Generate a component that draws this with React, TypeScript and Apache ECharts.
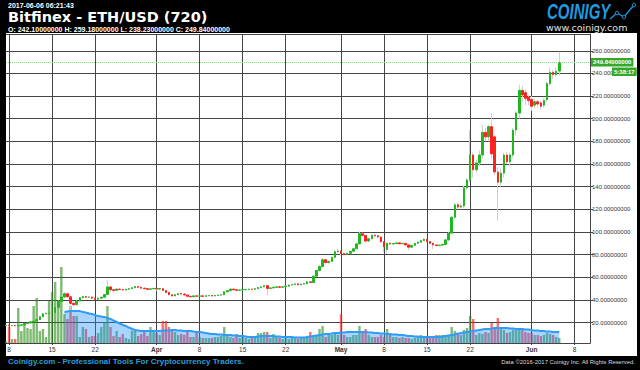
import React, { useEffect, useRef } from 'react';
import * as echarts from 'echarts';

// 12h candles, Bitfinex ETH/USD
const START = Date.UTC(2017, 2, 7, 12);
const STEP = 12 * 3600 * 1000;
const AXIS_SLOTS = 191; // Mar 7 12:00 .. Jun 10 12:00
const categories: string[] = [];
for (let i = 0; i < AXIS_SLOTS; i++) {
  categories.push(new Date(START + i * STEP).toISOString().slice(0, 16).replace('T', ' '));
}
const tickDays = [1, 8, 15, 22];
const monthNames = ['Jan', 'Feb', 'Mar', 'Apr', 'May', 'Jun', 'Jul', 'Aug', 'Sep', 'Oct', 'Nov', 'Dec'];

// [open, close, low, high]
const ohlc: number[][] = [
  [17.5, 17.8, 17.2, 18.1], [17.8, 17.3, 17.0, 18.0], [17.3, 17.5, 17.1, 17.8], [17.5, 17.2, 16.9, 17.7], [17.2, 17.6, 17.0, 17.9],
  [17.6, 18.0, 17.4, 18.3], [18.0, 19.2, 17.8, 19.5], [19.2, 19.6, 18.9, 20.0], [19.6, 20.8, 19.4, 21.2], [20.8, 21.4, 20.5, 21.8],
  [21.4, 22.6, 21.2, 23.2], [22.6, 25.2, 22.3, 25.8], [25.2, 27.8, 24.9, 28.5], [27.8, 28.2, 27.3, 28.8], [28.2, 28.6, 27.9, 29.2],
  [28.6, 28.9, 28.2, 29.4], [28.9, 33.5, 28.6, 34.2], [33.5, 38.5, 33.0, 39.5], [38.5, 42.6, 37.8, 44.0], [42.6, 45.5, 41.5, 47.0],
  [45.5, 42.8, 41.5, 46.5], [42.8, 37.0, 31.0, 43.5], [37.0, 35.8, 34.0, 38.5], [35.8, 39.0, 35.0, 39.8], [39.0, 42.0, 38.5, 42.8],
  [42.0, 43.0, 41.2, 44.0], [43.0, 42.4, 41.8, 43.6], [42.4, 42.6, 41.8, 43.2], [42.6, 41.6, 41.0, 43.0], [41.6, 40.6, 40.0, 42.0],
  [40.6, 41.6, 40.2, 42.2], [41.6, 42.4, 41.2, 43.0], [42.4, 44.8, 42.0, 45.5], [44.8, 51.5, 44.5, 58.0], [51.5, 49.0, 47.5, 52.5],
  [49.0, 48.4, 46.5, 50.0], [48.4, 49.6, 48.0, 50.5], [49.6, 49.2, 48.6, 50.2], [49.2, 48.8, 47.8, 49.8], [48.8, 49.5, 48.4, 50.0],
  [49.5, 50.0, 49.1, 50.6], [50.0, 50.8, 49.6, 51.4], [50.8, 51.8, 50.4, 52.4], [51.8, 51.2, 50.6, 52.2], [51.2, 50.4, 49.8, 51.6],
  [50.4, 50.0, 49.4, 50.8], [50.0, 49.4, 48.8, 50.4], [49.4, 49.8, 49.0, 50.4], [49.8, 50.2, 49.4, 50.8], [50.2, 49.6, 48.0, 50.6],
  [49.6, 50.0, 49.2, 50.5], [50.0, 48.4, 47.8, 50.3], [48.4, 46.6, 46.0, 48.8], [46.6, 44.6, 44.0, 47.0], [44.6, 43.6, 42.8, 45.0],
  [43.6, 44.6, 43.2, 45.2], [44.6, 45.6, 44.2, 46.2], [45.6, 45.2, 44.6, 46.0], [45.2, 44.4, 43.8, 45.6], [44.4, 43.2, 42.6, 44.8],
  [43.2, 42.8, 42.2, 43.6], [42.8, 43.6, 42.4, 44.0], [43.6, 43.3, 42.9, 44.0], [43.3, 43.6, 43.0, 44.0], [43.6, 43.2, 42.8, 44.0],
  [43.2, 43.7, 42.9, 44.1], [43.7, 43.9, 43.3, 44.3], [43.9, 43.5, 43.1, 44.2], [43.5, 44.0, 43.2, 44.4], [44.0, 44.3, 43.7, 44.8],
  [44.3, 44.6, 44.0, 45.0], [44.6, 47.2, 44.3, 47.8], [47.2, 48.2, 46.8, 48.8], [48.2, 49.6, 47.8, 50.4], [49.6, 49.0, 48.4, 50.0],
  [49.0, 48.5, 48.0, 49.4], [48.5, 48.8, 48.1, 49.3], [48.8, 49.1, 48.5, 49.6], [49.1, 49.3, 48.7, 49.8], [49.3, 49.6, 49.0, 50.0],
  [49.6, 49.4, 49.0, 50.0], [49.4, 50.0, 49.0, 50.4], [50.0, 51.0, 49.6, 51.5], [51.0, 51.6, 50.6, 52.0], [51.6, 52.6, 51.2, 53.2],
  [52.6, 50.2, 44.0, 53.0], [50.2, 50.6, 49.6, 51.2], [50.6, 51.2, 50.2, 51.8], [51.2, 51.6, 50.8, 52.0], [51.6, 51.2, 50.8, 52.0],
  [51.2, 51.6, 50.9, 52.0], [51.6, 52.2, 51.2, 52.6], [52.2, 53.2, 51.8, 53.6], [53.2, 53.6, 52.8, 54.2], [53.6, 54.2, 53.2, 54.6],
  [54.2, 53.4, 53.0, 54.6], [53.4, 54.0, 53.0, 54.4], [54.0, 54.4, 53.6, 55.0], [54.4, 56.0, 54.0, 56.6], [56.0, 55.4, 55.0, 56.4],
  [55.4, 61.0, 55.0, 62.0], [61.0, 66.0, 60.2, 67.0], [66.0, 69.5, 65.0, 71.0], [69.5, 75.5, 69.0, 77.0], [75.5, 73.0, 72.0, 76.0],
  [73.0, 74.0, 72.4, 75.0], [74.0, 77.6, 73.5, 78.5], [77.6, 82.6, 77.0, 84.0], [82.6, 83.2, 81.8, 85.0], [83.2, 81.0, 79.5, 84.0],
  [81.0, 80.2, 79.0, 82.0], [80.2, 81.2, 79.8, 82.0], [81.2, 83.0, 80.8, 83.6], [83.0, 85.2, 82.6, 86.0], [85.2, 89.5, 84.8, 90.4],
  [89.5, 98.5, 89.0, 100.5], [98.5, 97.0, 95.5, 99.5], [97.0, 92.0, 90.5, 97.6], [92.0, 94.0, 91.2, 95.0], [94.0, 97.2, 93.5, 98.0],
  [97.2, 96.6, 95.8, 98.0], [96.6, 95.6, 94.8, 97.4], [95.6, 91.4, 90.5, 96.0], [91.4, 87.0, 82.0, 92.0], [84.5, 90.0, 81.0, 90.8],
  [90.0, 89.4, 88.6, 90.6], [89.4, 89.8, 88.8, 90.4], [89.8, 90.4, 89.2, 91.0], [90.4, 89.6, 89.0, 91.0], [89.6, 90.0, 89.2, 90.6],
  [90.0, 88.6, 88.0, 90.4], [88.6, 86.6, 84.0, 89.0], [86.6, 88.2, 86.0, 88.8], [88.2, 90.0, 87.8, 90.6], [90.0, 91.0, 89.6, 91.6],
  [91.0, 92.4, 90.6, 93.0], [92.4, 93.6, 92.0, 94.4], [93.6, 91.6, 91.0, 94.0], [91.6, 90.0, 89.4, 92.0], [90.0, 88.6, 85.0, 90.4],
  [88.6, 88.0, 87.4, 89.0], [88.0, 88.4, 87.6, 89.0], [88.4, 89.0, 88.0, 89.6], [89.0, 93.0, 88.0, 94.0], [93.0, 99.0, 92.0, 100.0],
  [99.0, 113.0, 98.0, 114.0], [113.0, 124.0, 111.0, 126.0], [124.0, 122.0, 120.0, 126.0], [122.0, 123.0, 120.0, 125.0], [123.0, 139.0, 121.0, 141.0],
  [139.0, 146.0, 137.0, 148.0], [146.0, 168.0, 144.0, 190.0], [168.0, 155.0, 148.0, 170.0], [155.0, 161.0, 152.0, 164.0], [161.0, 168.0, 158.0, 172.0],
  [168.0, 188.0, 165.0, 195.0], [188.0, 184.0, 180.0, 192.0], [184.0, 193.0, 180.0, 195.0], [193.0, 169.0, 165.0, 205.0], [184.0, 153.0, 150.0, 186.0],
  [153.0, 144.0, 110.0, 157.0], [144.0, 152.0, 140.0, 156.0], [152.0, 168.0, 148.0, 170.0], [168.0, 162.0, 160.0, 171.0], [162.0, 168.0, 158.0, 170.0],
  [168.0, 190.0, 165.0, 192.0], [190.0, 205.0, 185.0, 207.0], [205.0, 225.0, 200.0, 230.0], [225.0, 221.0, 215.0, 229.0], [223.0, 218.0, 212.0, 226.0],
  [219.0, 216.0, 212.0, 221.0], [217.0, 211.0, 207.0, 220.0], [212.0, 215.0, 209.0, 218.0], [215.0, 213.0, 210.0, 217.0], [214.0, 211.0, 208.0, 216.0],
  [212.0, 216.0, 210.0, 218.0], [217.0, 231.0, 215.0, 233.0], [231.0, 241.0, 229.0, 245.0], [241.0, 239.0, 235.0, 243.0], [239.0, 242.0, 237.0, 245.0],
  [242.1, 249.84, 238.23, 259.18],
];

const volumes: number[] = [
  2, 16, 4, 4, 35, 12, 20, 15, 14, 37, 45, 12, 14, 6, 42, 51, 61, 42, 76, 29,
  24, 37, 27, 27, 6, 16, 14, 6, 7, 7, 10, 16, 21, 37, 16, 7, 12, 6, 9, 5,
  4, 12, 12, 7, 9, 12, 7,
  16, 11, 10, 8, 22, 22, 16, 12, 11, 8, 9, 8, 13, 6, 6, 10, 6, 5, 5, 5,
  5, 6, 6, 7, 16, 8, 6, 5, 9, 5, 8, 5, 4, 5, 7, 10, 10, 11, 11, 5,
  9, 6, 5, 4, 5, 4, 5, 5, 4, 5,
  5, 6, 11, 6, 8, 14, 17, 6, 8, 8, 11, 8, 29, 8, 6, 6, 8, 8, 17, 11,
  14, 8, 6, 6, 6, 8, 6, 14, 8, 6, 6, 5, 6, 5, 5, 4, 5, 6, 8, 6,
  5, 6, 6, 8, 8, 8,
  6, 8, 16, 12, 9, 8, 13, 15, 27, 24, 8, 10, 9, 11, 10, 20, 15, 25, 16, 13,
  10, 11, 13, 13, 15, 13, 11, 10, 10, 8, 8, 7, 8, 10, 9, 8, 6, 5,
];

// volume moving average (starts Mar 17)
const volumeAvg: (number | null)[] = [
  null, null, null, null, null, null, null, null, null, null,
  null, null, null, null, null, null, null, null, null,
  31, 31.5, 32, 32, 32, 32,
  31, 30.5, 29.5, 29, 28, 27,
  26.5, 26, 25, 24, 22.5, 21,
  19.5, 18, 17, 15.5, 14, 13,
  12.5, 12, 12, 12, 12, 12,
  12, 12, 12.5, 12.5, 12.5, 13,
  13, 12.5, 12.5, 12, 12, 12,
  11.5, 11, 11, 10.5, 10, 9.5,
  9, 9, 8.5, 8.5, 8, 8,
  8, 7.5, 7.5, 7, 7, 6.5,
  6, 6, 6, 6.5, 7, 7,
  7, 7, 7, 6.5, 6.5, 6,
  6, 6, 6, 5.5, 5.5, 5.5,
  5.5, 6, 6.5, 7, 7.5, 8,
  8.5, 9, 9, 9.5, 10, 10,
  10.5, 10.5, 11, 11, 11, 11,
  11, 11, 11, 10.5, 10.5, 10,
  10, 9.5, 9.5, 9, 9, 8.5,
  8.5, 8, 8, 7.5, 7, 7,
  6.5, 6.5, 6, 6, 6, 6,
  6, 6, 6, 6.5, 7, 7.5,
  8, 8.5, 9.5, 10, 10.5, 11,
  11.5, 12, 12.5, 13, 13.5, 14,
  14, 14.5, 15, 15, 15, 15,
  15, 14.5, 14.5, 14, 14, 14,
  13.5, 13.5, 13, 12.5, 12.5, 12,
  12, 11.5, 11.5, 11, 11, 11,
];

const timestamp = '2017-06-06 06:21:43';
const title = 'Bitfinex - ETH/USD (720)';
const ohlcLine = 'O: 242.10000000 H: 259.18000000 L: 238.23000000 C: 249.84000000';
const lastPrice = 249.84;
const countdown = '5:38:17';
const footerLeft = 'Coinigy.com - Professional Tools For Cryptocurrency Traders.';
const footerRight = 'Data \u00a92016-2017 Coinigy Inc. All Rights Reserved.';

const UP = '#1fb81f';
const DOWN = '#ff2020';
const GRID = '#444444';

function isTick(_i: number, val: string) {
  if (!val.endsWith('00:00')) return false;
  const day = parseInt(val.slice(8, 10), 10);
  return tickDays.includes(day);
}

function fmtTick(val: string) {
  const day = parseInt(val.slice(8, 10), 10);
  if (day === 1) return '{m|' + monthNames[parseInt(val.slice(5, 7), 10) - 1] + '}';
  return String(day);
}

export default function App() {
  const ref = useRef<HTMLDivElement>(null);
  useEffect(() => {
    if (!ref.current) return;
    const chart = echarts.init(ref.current, undefined, { renderer: 'svg' });
    const volData = volumes.map((v, i) => {
      const c = ohlc[i];
      const up = c[1] >= c[0];
      return { value: v, itemStyle: { color: up ? 'rgba(40,140,20,0.6)' : 'rgba(255,30,30,0.65)' } };
    });
    const bodies = ohlc.map(([o, c]) => [o, c, Math.min(o, c), Math.max(o, c)]);
    const option: any = {
      animation: false,
      backgroundColor: '#000',
      grid: { left: 6, right: 50, top: 34, bottom: 27, containLabel: false },
      xAxis: {
        type: 'category',
        data: categories,
        boundaryGap: false,
        axisLine: { lineStyle: { color: GRID, width: 1 } },
        axisTick: { show: true, length: 2, interval: isTick, lineStyle: { color: GRID } },
        axisLabel: {
          interval: isTick,
          formatter: fmtTick,
          color: '#333',
          fontSize: 6.5,
          fontFamily: 'Liberation Sans',
          margin: 3,
          rich: { m: { fontWeight: 'bold', fontSize: 6.5, color: '#333', fontFamily: 'Liberation Sans' } },
        },
        splitLine: { show: true, interval: isTick, lineStyle: { color: GRID, width: 1 } },
      },
      yAxis: [
        {
          type: 'value',
          position: 'right',
          min: 2,
          max: 274.8,
          splitNumber: 13,
          axisLine: { show: true, lineStyle: { color: GRID } },
          axisTick: { show: true, length: 3, lineStyle: { color: GRID } },
          axisLabel: {
            color: '#333',
            fontSize: 6,
            fontFamily: 'Liberation Sans',
            margin: 2,
            showMinLabel: false,
            showMaxLabel: false,
            formatter: (v: number) => v.toFixed(8),
          },
          splitLine: { show: true, lineStyle: { color: GRID, width: 1 } },
        },
        { type: 'value', min: 0, max: 309, show: false, splitLine: { show: false } },
      ],
      series: [
        {
          type: 'bar',
          yAxisIndex: 1,
          data: volData,
          barWidth: 2.4,
          silent: true,
        },
        {
          type: 'line',
          yAxisIndex: 1,
          data: volumeAvg,
          symbol: 'none',
          smooth: 0.3,
          lineStyle: { color: '#2f9cf5', width: 2 },
          areaStyle: { color: 'rgba(30,144,255,0.55)' },
          silent: true,
        },
        {
          type: 'candlestick',
          data: ohlc,
          barWidth: 1,
          itemStyle: { color: '#cfcfcf', color0: '#cfcfcf', borderColor: '#cfcfcf', borderColor0: '#cfcfcf', borderWidth: 1 },
          silent: true,
        },
        {
          type: 'candlestick',
          data: bodies,
          barWidth: 2,
          itemStyle: { color: UP, color0: DOWN, borderColor: UP, borderColor0: DOWN, borderWidth: 1 },
          silent: true,
          markLine: {
            silent: true,
            symbol: ['none', 'none'],
            lineStyle: { color: '#8fd88f', type: 'dotted', width: 1 },
            label: {
              show: true,
              position: 'end',
              distance: 1,
              formatter: lastPrice.toFixed(8),
              color: '#fff',
              backgroundColor: '#35a82a',
              fontSize: 6,
              fontFamily: 'Liberation Sans',
              fontWeight: 'bold',
              padding: [1.5, 2, 1, 2],
            },
            data: [{ yAxis: lastPrice }],
          },
        },
      ],
      graphic: [
        { type: 'rect', shape: { x: 6, y: 33, width: 631, height: 323 }, style: { fill: '#fff' }, z: -10, silent: true },
        { type: 'text', x: 8, y: 1.5, z: 10, style: { text: timestamp, fill: '#fff', font: 'bold 7px "Liberation Sans"' } },
        { type: 'text', x: 8, y: 9, z: 10, style: { text: title, fill: '#fff', font: 'bold 14.5px "DejaVu Sans"' } },
        { type: 'text', x: 8, y: 26, z: 10, style: { text: ohlcLine, fill: '#fff', font: 'bold 7px "Liberation Sans"' } },
        {
          type: 'text', x: 547, y: 0.5, z: 10, scaleX: 0.75, scaleY: 1.1,
          style: { text: 'COINIGY', fill: '#1e9be0', font: 'italic bold 20px "Liberation Sans"' },
        },
        {
          type: 'polyline', z: 10, silent: true,
          shape: { points: [[610, 19], [617, 13], [624, 17], [634, 5]] },
          style: { stroke: '#1e9be0', lineWidth: 1.3, fill: 'none' },
        },
        { type: 'circle', z: 11, shape: { cx: 617, cy: 13, r: 1.8 }, style: { stroke: '#1e9be0', lineWidth: 1, fill: '#000' } },
        { type: 'circle', z: 11, shape: { cx: 624, cy: 17, r: 1.8 }, style: { stroke: '#1e9be0', lineWidth: 1, fill: '#000' } },
        { type: 'circle', z: 11, shape: { cx: 634, cy: 5, r: 1.8 }, style: { stroke: '#1e9be0', lineWidth: 1, fill: '#000' } },
        { type: 'text', x: 546, y: 22, z: 10, style: { text: 'www.coinigy.com', fill: '#e0e0e0', font: '9.5px "DejaVu Sans"' } },
        {
          type: 'text', x: 612, y: 67.5, z: 20,
          style: { text: countdown, fill: '#fff', font: 'bold 6px "Liberation Sans"', backgroundColor: '#35a82a', padding: [1.5, 2, 1, 2] },
        },
        { type: 'text', x: 8, y: 357, z: 10, style: { text: footerLeft, fill: '#2a9fd6', font: 'bold 8px "Liberation Sans"' } },
        { type: 'text', x: 635, y: 358.5, z: 10, style: { text: footerRight, fill: '#ddd', font: '5.9px "Liberation Sans"', align: 'right' } },
      ],
    };
    chart.setOption(option);
    return () => chart.dispose();
  }, []);
  return (
    <div
      ref={ref}
      style={{ position: 'fixed', left: 0, top: 0, width: 640, height: 370, background: '#000' }}
    />
  );
}
